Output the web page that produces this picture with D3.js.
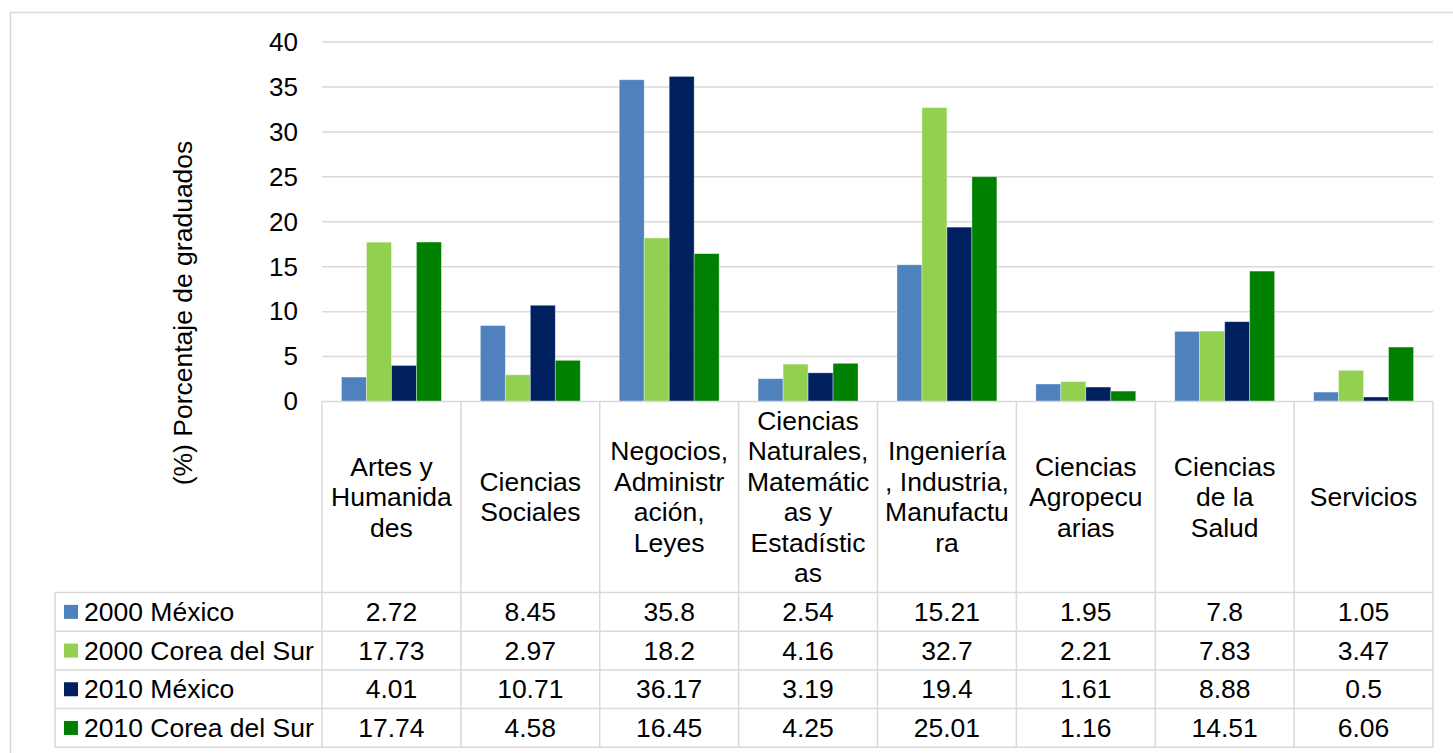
<!DOCTYPE html>
<html>
<head>
<meta charset="utf-8">
<script src="https://cdn.jsdelivr.net/npm/d3@7"></script>
<style>
  html, body { margin: 0; padding: 0; background: #fff; }
  svg text { font-family: "Liberation Sans", Arial, sans-serif; fill: #000; }
</style>
</head>
<body>
<svg id="chart" width="1453" height="753"></svg>
<script>
// Fields of study (header lines as wrapped in the data table)
const categories = [
  ["Artes y", "Humanida", "des"],
  ["Ciencias", "Sociales"],
  ["Negocios,", "Administr", "ación,", "Leyes"],
  ["Ciencias", "Naturales,", "Matemátic", "as y", "Estadístic", "as"],
  ["Ingeniería", ", Industria,", "Manufactu", "ra"],
  ["Ciencias", "Agropecu", "arias"],
  ["Ciencias", "de la", "Salud"],
  ["Servicios"]
];
const seriesNames = ["2000 México", "2000 Corea del Sur", "2010 México", "2010 Corea del Sur"];
const seriesColors = ["#4f81bd", "#92d050", "#002060", "#008000"];

const mexico2000 = [2.72, 8.45, 35.8, 2.54, 15.21, 1.95, 7.8, 1.05];
const corea2000  = [17.73, 2.97, 18.2, 4.16, 32.7, 2.21, 7.83, 3.47];
const mexico2010 = [4.01, 10.71, 36.17, 3.19, 19.4, 1.61, 8.88, 0.5];
const corea2010  = [17.74, 4.58, 16.45, 4.25, 25.01, 1.16, 14.51, 6.06];
const seriesValues = [mexico2000, corea2000, mexico2010, corea2010];

const yTicks = [0, 5, 10, 15, 20, 25, 30, 35, 40];
const yTitle = "(%) Porcentaje de graduados";

const svg = d3.select("#chart");
const FONT = 26.5;
const TICK_FONT = 26;
const lineCol = "#d9d9d9";

// layout
const plotLeft = 322, plotRight = 1433;
const plotTop = 42, plotBottom = 401.5;
const tableLeft = 55;
const headerBottom = 592.5;
const rowH = 38.7;

// outer chart frame
svg.append("rect")
  .attr("x", 10.5).attr("y", 12.5)
  .attr("width", 1460).attr("height", 760)
  .attr("fill", "none").attr("stroke", lineCol).attr("stroke-width", 1.5);

const idx = d3.range(categories.length);
const x0 = d3.scaleBand().domain(idx).range([plotLeft, plotRight]).paddingInner(0).paddingOuter(0);
const x1 = d3.scaleBand().domain(d3.range(seriesNames.length)).range([0, x0.bandwidth()])
  .paddingInner(0).paddingOuter(0.78);
const y = d3.scaleLinear().domain([0, 40]).range([plotBottom, plotTop]);

// gridlines + tick labels
const yAxis = d3.axisLeft(y).tickValues(yTicks).tickSize(0).tickPadding(24);
const gAxis = svg.append("g").attr("transform", `translate(${plotLeft},0)`).call(yAxis);
gAxis.select(".domain").remove();
gAxis.selectAll("text").attr("font-size", TICK_FONT)
  .attr("font-family", "'Liberation Sans', Arial, sans-serif").attr("fill", "#000");

svg.append("g").selectAll("line")
  .data(yTicks.filter(t => t > 0))
  .join("line")
  .attr("x1", plotLeft).attr("x2", plotRight)
  .attr("y1", d => y(d)).attr("y2", d => y(d))
  .attr("stroke", lineCol).attr("stroke-width", 1.5);

// axis title
svg.append("text")
  .attr("transform", "translate(183,313) rotate(-90)")
  .attr("text-anchor", "middle").attr("dominant-baseline", "central")
  .attr("font-size", FONT)
  .text(yTitle);

// bars
const gBars = svg.append("g");
seriesValues.forEach((vals, s) => {
  gBars.append("g").selectAll("rect")
    .data(vals)
    .join("rect")
    .attr("x", (d, i) => x0(i) + x1(s))
    .attr("width", x1.bandwidth())
    .attr("y", d => y(d))
    .attr("height", d => y(0) - y(d))
    .attr("fill", seriesColors[s])
    .attr("stroke", "rgba(255,255,255,0.45)")
    .attr("stroke-width", 0.8);
});

// data table
const gT = svg.append("g").attr("stroke", lineCol).attr("stroke-width", 1.5);
// top border of header
gT.append("line").attr("x1", plotLeft).attr("x2", plotRight).attr("y1", plotBottom).attr("y2", plotBottom);
// horizontal row lines
const rowYs = d3.range(seriesNames.length + 1).map(r => headerBottom + r * rowH);
gT.selectAll(".hrow").data(rowYs).join("line")
  .attr("x1", tableLeft).attr("x2", plotRight)
  .attr("y1", d => d).attr("y2", d => d);
// vertical column lines
const colXs = idx.map(i => x0(i)).concat([plotRight]);
gT.selectAll(".vcol").data(colXs).join("line")
  .attr("x1", d => d).attr("x2", d => d)
  .attr("y1", plotBottom).attr("y2", rowYs[rowYs.length - 1]);
gT.append("line").attr("x1", tableLeft).attr("x2", tableLeft)
  .attr("y1", headerBottom).attr("y2", rowYs[rowYs.length - 1]);

// header labels
const lineH = 30.5;
const headerMid = (plotBottom + headerBottom) / 2;
categories.forEach((lines, i) => {
  const cx = x0(i) + x0.bandwidth() / 2;
  const startY = headerMid - (lines.length - 1) * lineH / 2;
  const t = svg.append("text")
    .attr("text-anchor", "middle").attr("font-size", FONT);
  lines.forEach((ln, k) => {
    t.append("tspan").attr("x", cx).attr("y", startY + k * lineH)
      .attr("dominant-baseline", "central").text(ln);
  });
});

// legend column + values
seriesNames.forEach((name, s) => {
  const cy = rowYs[s] + rowH / 2;
  svg.append("rect").attr("x", 64).attr("y", cy - 7).attr("width", 14).attr("height", 14)
    .attr("fill", seriesColors[s]);
  svg.append("text").attr("x", 84).attr("y", cy).attr("dominant-baseline", "central")
    .attr("font-size", FONT).text(name);
  seriesValues[s].forEach((v, i) => {
    svg.append("text")
      .attr("x", x0(i) + x0.bandwidth() / 2).attr("y", cy)
      .attr("text-anchor", "middle").attr("dominant-baseline", "central")
      .attr("font-size", FONT).text(String(v));
  });
});
</script>
</body>
</html>
